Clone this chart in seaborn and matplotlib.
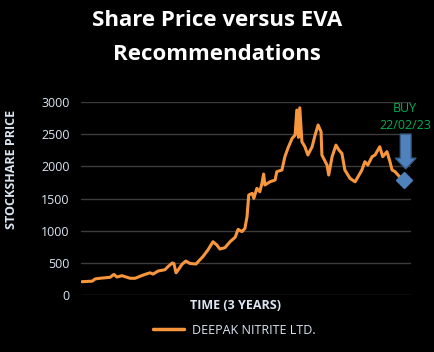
import matplotlib
matplotlib.use("Agg")
import matplotlib.pyplot as plt
import seaborn as sns
import pandas as pd
from matplotlib.patches import FancyArrowPatch
from matplotlib.lines import Line2D

# ---------------- data ----------------
day = [0, 9, 24, 31, 42, 66, 75, 82, 94, 113, 125, 136, 148, 160, 167, 179, 195, 202,
       212, 216, 221, 226, 235, 244, 254, 268, 275, 284, 296, 308, 317, 324, 336, 348,
       360, 367, 376, 383, 388, 392, 400, 404, 411, 418, 423, 427, 430, 442, 454, 458,
       470, 477, 484, 494, 501, 505, 509, 512, 517, 524, 531, 541, 548, 555, 562, 564,
       576, 580, 588, 597, 604, 611, 618, 630, 642, 649, 658, 665, 672, 682, 689, 700,
       707, 717, 724, 729, 736, 743, 750]
price = [207, 210, 215, 250, 260, 275, 320, 280, 300, 260, 260, 290, 320, 345, 325, 373,
         393, 440, 497, 490, 345, 388, 477, 528, 490, 482, 533, 595, 700, 828, 777, 715,
         735, 828, 897, 1020, 985, 1036, 1218, 1555, 1580, 1503, 1658, 1605, 1735, 1880,
         1710, 1760, 1787, 1917, 1943, 2150, 2280, 2435, 2486, 2875, 2450, 2910, 2383,
         2305, 2176, 2305, 2486, 2642, 2538, 2176, 2020, 1865, 2150, 2330, 2253, 2202,
         1943, 1813, 1760, 1838, 1943, 2072, 2020, 2150, 2176, 2305, 2150, 2228, 2072,
         1943, 1917, 1865, 1813]
series_name = "DEEPAK NITRITE LTD."
buy_day = 758
buy_price = 1790
buy_label = "BUY\n22/02/23"
y_ticks = [0, 500, 1000, 1500, 2000, 2500, 3000]

df = pd.DataFrame({"day": day, "price": price})

# ---------------- style ----------------
sns.set_theme(style="dark", rc={
    "figure.facecolor": "black",
    "axes.facecolor": "black",
    "axes.edgecolor": "black",
    "grid.color": "#3c3c3c",
})
plt.rcParams["font.family"] = ["Open Sans", "DejaVu Sans"]

fig = plt.figure(figsize=(4.34, 3.52), dpi=100)
ax = fig.add_axes([81 / 434, 57 / 352, 330 / 434, 193 / 352])

orange = "#F7963C"
sns.lineplot(data=df, x="day", y="price", ax=ax, color=orange, linewidth=2.2,
             label=series_name, legend=False)

ax.plot([buy_day], [buy_price], marker="D", markersize=8.5, color="#4F81BD",
        markeredgecolor="#4F81BD", linestyle="none", zorder=5, clip_on=False)

arrow = FancyArrowPatch((buy_day + 3, 2500), (buy_day + 3, 1960),
                        arrowstyle="simple,head_length=0.55,head_width=1.05,tail_width=0.55",
                        mutation_scale=14, shrinkA=0, shrinkB=0,
                        facecolor="#4F81BD", edgecolor="#385D8A",
                        linewidth=1.0, zorder=6, clip_on=False)
ax.add_patch(arrow)
ax.text(buy_day + 2, 2766, buy_label, color="#00B050", ha="center", va="center",
        fontsize=9, linespacing=1.35)

ax.set_xlim(-2.4, 773.5)
ax.set_ylim(0, 3000)
ax.set_yticks(y_ticks)
ax.set_yticklabels([str(v) for v in y_ticks])
ax.set_xticks([])
ax.grid(axis="y", color="#3c3c3c", linewidth=1.0)
ax.grid(axis="x", visible=False)
for s in ax.spines.values():
    s.set_visible(False)
ax.tick_params(axis="y", colors="#DCE6F2", labelsize=9, length=0, pad=8)

ax.set_xlabel("TIME (3 YEARS)", color="#DCE6F2", fontsize=9, fontweight="bold")
ax.xaxis.set_label_coords((236 - 81) / 330, -0.022)
ax.set_ylabel("STOCKSHARE PRICE", color="#DCE6F2", fontsize=9, fontweight="bold")
ax.yaxis.set_label_coords(-0.19, 0.648)

fig.text(0.5, 1 - 20 / 352, "Share Price versus EVA", color="white", fontsize=16,
         fontweight="bold", ha="center", va="center")
fig.text(0.5, 1 - 54 / 352, "Recommendations", color="white", fontsize=16,
         fontweight="bold", ha="center", va="center")

handle = Line2D([0], [0], color=orange, linewidth=2.5)
fig.legend([handle], [series_name], loc="center", bbox_to_anchor=(234 / 434, 1 - 330 / 352),
           frameon=False, fontsize=9, labelcolor="#DCE6F2", handlelength=2.5,
           handletextpad=0.6)

fig.savefig("out.png", dpi=100, facecolor="black")
